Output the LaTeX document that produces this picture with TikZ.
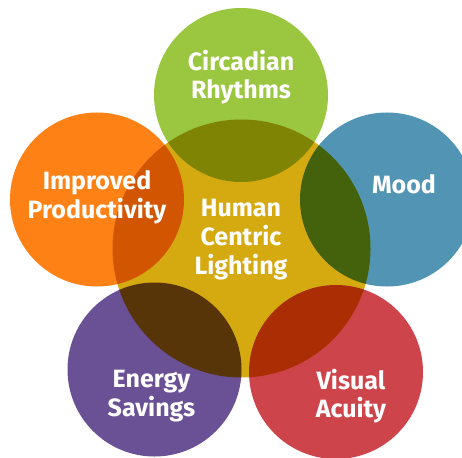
\documentclass[tikz,border=0pt]{standalone}
\usepackage{fontspec}
\setmainfont{Fira Sans}
\usepackage{xcolor}
\definecolor{hclgreen}{HTML}{9BC640}
\definecolor{hclyellow}{HTML}{D4AA10}
\definecolor{hclblue}{HTML}{5294B4}
\definecolor{hclorange}{HTML}{FD8114}
\definecolor{hclpurple}{HTML}{6A5094}
\definecolor{hclred}{HTML}{CE444B}
\begin{document}
\begin{tikzpicture}[x=1pt,y=-1pt,
  petal/.style={circle,inner sep=0pt,minimum size=174pt},
  caption/.style={text=white,align=center,font=\fontsize{25}{28.7}\selectfont\bfseries}]
\clip (0,0) rectangle (462,457);% frame of the picture (pixels as points, y downwards)
\fill[white] (0,0) rectangle (462,457);
\node[petal,fill=hclgreen] (circadian) at (241,95) {};% top
\node[petal,fill=hclblue] (mood) at (387,199.5) {};% right
\node[petal,fill=hclorange] (productivity) at (97,199.5) {};% left
\node[petal,fill=hclpurple] (energy) at (154.5,369.5) {};% bottom left
\node[petal,fill=hclred] (acuity) at (336,372) {};% bottom right
\node[circle,inner sep=0pt,minimum size=258pt,fill=hclyellow,blend mode=multiply] (hcl) at (241.5,248.5) {};% centre, darkens the overlaps
\node[caption] (tcircadian) at (241,77) {Circadian\\Rhythms};
\node[caption] (tmood) at (404,184) {Mood};
\node[caption] (tproductivity) at (97,197.5) {Improved\\Productivity};
\node[caption] (thcl) at (241,239.5) {Human\\Centric\\Lighting};
\node[caption] (tenergy) at (151.5,396) {Energy\\Savings};
\node[caption] (tacuity) at (351,396) {Visual\\Acuity};
\end{tikzpicture}
\end{document}
